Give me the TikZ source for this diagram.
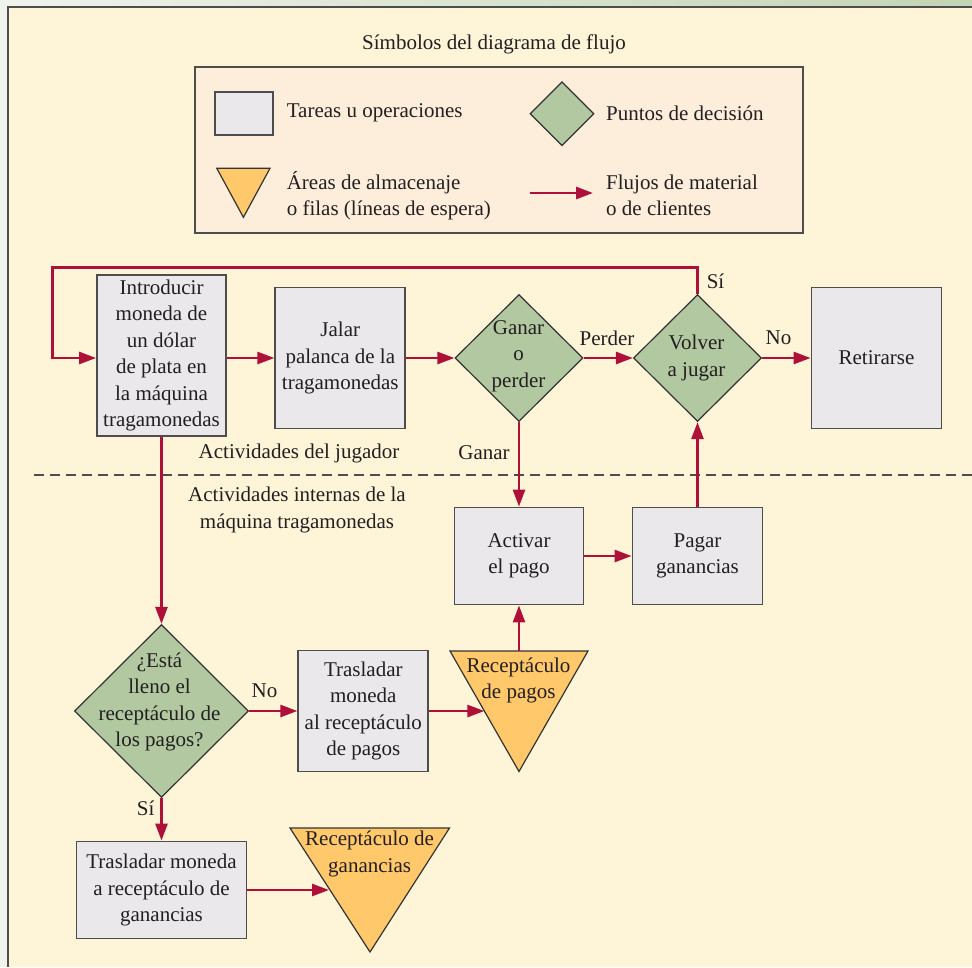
\documentclass[tikz,border=0pt]{standalone}
\usepackage{fontspec}
\setmainfont{Liberation Serif}
\usetikzlibrary{shapes.geometric,arrows.meta}
\definecolor{bgc}{HTML}{FEF5D9}
\definecolor{legc}{HTML}{FDEEDC}
\definecolor{boxc}{HTML}{EAE8EB}
\definecolor{diac}{HTML}{B2C8A1}
\definecolor{tric}{HTML}{FEC86B}
\definecolor{flowc}{HTML}{AE1038}
\definecolor{linec}{HTML}{4D4D4D}
\definecolor{txtc}{HTML}{231F20}
\definecolor{stripl}{HTML}{EFF3EC}
\definecolor{stripr}{HTML}{C3D4B4}
\begin{document}
\begin{tikzpicture}[x=1pt,y=-1pt,
  font=\fontsize{21}{26.5}\selectfont,
  every node/.style={text=txtc},
  taskbox/.style={draw=linec, line width=1.8pt, fill=boxc, align=center, inner sep=0pt},
  decbox/.style={diamond, draw=black!80, line width=1.2pt, fill=diac, inner sep=0pt},
  tri/.style={draw=black!80, line width=1.2pt, fill=tric, line join=miter},
  flow/.style={draw=flowc, line width=2.6pt, -{Triangle[length=17pt,width=12pt]}},
  flowline/.style={draw=flowc, line width=2.6pt},
  txt/.style={align=center, inner sep=0pt}
]
\useasboundingbox (0,0) rectangle (972,967);
% frame
\fill[bgc] (0,0) rectangle (972,967);
\shade[left color=stripl, right color=stripr] (0,0) rectangle (972,6);
\fill[stripl] (0,6) rectangle (7,967);
\draw[linec, line width=2pt] (8,967) -- (8,7) -- (972,7);

% legend
\node[txt] (title) at (494,44) {Símbolos del diagrama de flujo};
\node[draw=linec, line width=1.8pt, fill=legc, minimum width=608pt, minimum height=166pt, inner sep=0pt] (legend) at (499,150) {};
\node[taskbox, minimum width=58pt, minimum height=43pt] (lsq) at (243.7,113.2) {};
\node[txt, anchor=west] (lsqt) at (286.6,113) {Tareas u operaciones};
\node[decbox, minimum width=64pt, minimum height=64pt] (ldia) at (562,113.7) {};
\node[txt, anchor=west] (ldiat) at (606,113.7) {Puntos de decisión};
\draw[tri] (216.8,168.3) -- (270,168.3) -- (243.4,217.3) -- cycle;
\node[txt, anchor=west, align=left] (ltrit) at (286.6,195.5) {Áreas de almacenaje\\o filas (líneas de espera)};
\coordinate (la1) at (530,193);
\coordinate (la2) at (593,193);
\draw[flow] (la1) -- (la2);
\node[txt, anchor=west, align=left] (larrt) at (606,195.5) {Flujos de material\\o de clientes};

% player row
\node[taskbox, minimum width=129pt, minimum height=161pt] (intro) at (161.5,355.5) {Introducir\\moneda de\\un dólar\\de plata en\\la máquina\\tragamonedas};
\node[taskbox, minimum width=130pt, minimum height=141pt] (jalar) at (340.3,358) {Jalar\\palanca de la\\tragamonedas};
\node[decbox, minimum width=128pt, minimum height=127pt] (ganar) at (519,358) {};
\node[txt] (ganart) at (518.5,356) {Ganar\\o\\perder};
\node[decbox, minimum width=128pt, minimum height=127pt] (volver) at (697.5,358) {};
\node[txt] (volvert) at (696.5,358) {Volver\\a jugar};
\node[taskbox, minimum width=130pt, minimum height=141pt] (retir) at (876.5,358) {Retirarse};

\node[txt] (lperder) at (607,338) {Perder};
\node[txt] (lno1) at (778.5,338) {No};
\node[txt] (lsi1) at (715.5,281) {Sí};
\node[txt] (lganar) at (484,453) {Ganar};
\node[txt] (ljug) at (299,453) {Actividades del jugador};
\draw[linec, line width=1.3pt, dash pattern=on 10pt off 6pt] (34,475) -- (972,475);
\node[txt] (lint) at (297,510) {Actividades internas de la\\máquina tragamonedas};

% machine
\node[taskbox, minimum width=129pt, minimum height=97pt] (activar) at (519,556) {Activar\\el pago};
\node[taskbox, minimum width=130pt, minimum height=97pt] (pagar) at (697.5,556) {Pagar\\ganancias};
\node[decbox, minimum width=174pt, minimum height=173pt] (esta) at (161.5,711) {};
\node[txt] (estat) at (159.5,702) {¿Está\\lleno el\\receptáculo de\\los pagos?};
\node[taskbox, minimum width=130pt, minimum height=121pt] (tras1) at (363.3,711) {Trasladar\\moneda\\al receptáculo\\de pagos};
\draw[tri] (450,651) -- (588,651) -- (519,771.5) -- cycle;
\node[txt] (rpag) at (518.5,680.5) {Receptáculo\\de pagos};
\coordinate (rpagin) at (484.4,711);
\coordinate (rpagtop) at (519,651);
\node[txt] (lno2) at (264.5,690.5) {No};
\node[txt] (lsi2) at (145.6,808) {Sí};
\node[taskbox, minimum width=170pt, minimum height=97pt] (tras2) at (161.5,890) {Trasladar moneda\\a receptáculo de\\ganancias};
\draw[tri] (290,828) -- (449.5,828) -- (370,952) -- cycle;
\node[txt] (rgan) at (369.6,854) {Receptáculo de\\ganancias};
\coordinate (rganin) at (329,890);

% connectors
\coordinate (lp) at (52.5,267.5);
\draw[flow] (volver.north) |- (lp) |- (intro.west |- jalar.west);
\draw[flow] (intro.east |- jalar.west) -- (jalar.west);
\draw[flow] (jalar.east) -- (ganar.west);
\draw[flow] (ganar.east) -- (volver.west);
\draw[flow] (volver.east) -- (retir.west);
\draw[flow] (ganar.south) -- (activar.north);
\draw[flow] (activar.east) -- (pagar.west);
\draw[flow] (pagar.north) -- (volver.south);
\draw[flow] (intro.south) -- (esta.north);
\draw[flow] (esta.east) -- (tras1.west);
\draw[flow] (tras1.east) -- (rpagin);
\draw[flow] (rpagtop) -- (activar.south);
\draw[flow] (esta.south) -- (tras2.north);
\draw[flow] (tras2.east) -- (rganin);
\end{tikzpicture}
\end{document}
